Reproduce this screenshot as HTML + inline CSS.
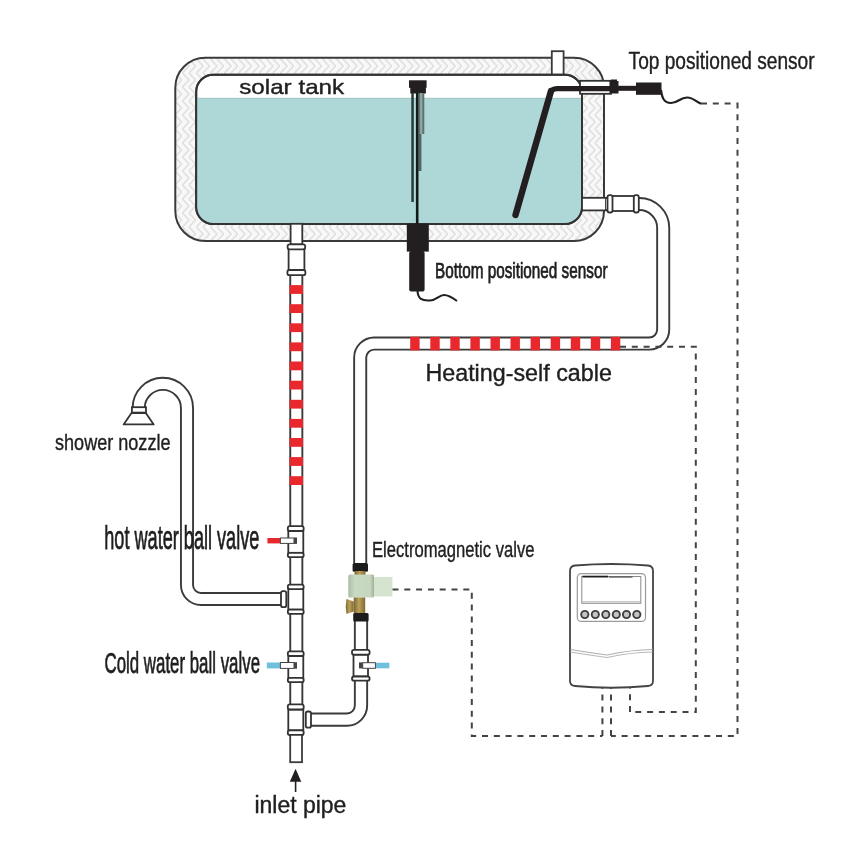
<!DOCTYPE html>
<html><head><meta charset="utf-8">
<style>
html,body{margin:0;padding:0;background:#fff;}
body{width:846px;height:846px;overflow:hidden;}
svg{display:block;}
text{font-family:"Liberation Sans",sans-serif;fill:#1e1e1e;}
.tx{opacity:0.995;will-change:transform;stroke:#1e1e1e;stroke-width:0.4;}
.b{stroke-width:0.75;}
</style></head><body>
<svg width="846" height="846" viewBox="0 0 846 846">
<defs>
<pattern id="ins" width="14" height="14" patternUnits="userSpaceOnUse" patternTransform="translate(0 59)">
<rect width="14" height="14" fill="#f8f8f8"/>
<path d="M0.5 0 L7 7 L0.5 14 M7 0 L13.5 7 L7 14" stroke="#e0e0e0" stroke-width="1.6" fill="none"/>
</pattern>
<linearGradient id="brass" x1="0" y1="0" x2="1" y2="0">
<stop offset="0" stop-color="#7a6430"/><stop offset="0.45" stop-color="#bba25c"/><stop offset="1" stop-color="#83692f"/>
</linearGradient>
<linearGradient id="green" x1="0" y1="0" x2="1" y2="0">
<stop offset="0" stop-color="#a9bba3"/><stop offset="0.25" stop-color="#c9dac2"/><stop offset="0.85" stop-color="#c6d6bf"/><stop offset="1" stop-color="#9fb099"/>
</linearGradient>
</defs>

<!-- ===== TANK ===== -->
<!-- insulation (outer) -->
<rect x="175.3" y="57.7" width="428.7" height="183.4" rx="30" ry="30" fill="url(#ins)" stroke="#3a3a3a" stroke-width="2"/>
<!-- vent on top -->
<rect x="551.8" y="51.2" width="11.8" height="24" fill="#fff" stroke="#3a3a3a" stroke-width="1.8"/>
<!-- inner tank -->
<rect x="196.2" y="74.7" width="385.8" height="149.3" rx="17" ry="17" fill="#fff" stroke="#3a3a3a" stroke-width="2"/>
<!-- water -->
<path d="M197.2 98.3 H581 V207 A16 16 0 0 1 565 223 H213 A16 16 0 0 1 197.2 207 Z" fill="#aed8d7"/>
<line x1="197.2" y1="98.3" x2="581" y2="98.3" stroke="#9cc4c4" stroke-width="1"/>
<rect x="196.2" y="74.7" width="385.8" height="149.3" rx="17" ry="17" fill="none" stroke="#333" stroke-width="2"/>


<!-- top sensor sleeve through right wall -->
<rect x="580" y="80.8" width="31" height="13" fill="#fff" stroke="#333" stroke-width="1.8"/>
<!-- top sensor rod -->
<path d="M614 88.6 H557 Q551.5 88.6 550 94" fill="none" stroke="#231f20" stroke-width="5.2" stroke-linecap="round" stroke-linejoin="round"/>
<path d="M551 91 L515.5 215" fill="none" stroke="#231f20" stroke-width="6.4" stroke-linecap="round"/>
<!-- nut -->
<rect x="609.5" y="81" width="9" height="12.5" fill="#231f20"/>
<rect x="611" y="79.5" width="6" height="2" fill="#231f20"/>
<!-- cable -->
<rect x="618" y="85.8" width="19" height="5" fill="#231f20"/>
<!-- sensor body -->
<rect x="636" y="82.5" width="25.5" height="12.3" fill="#231f20"/>
<!-- wire -->
<path d="M661 90 C662 98 664 103 671 103 C678 103 680 97.5 687 97.5 C694 97.5 697 103 701 103.6" fill="none" stroke="#231f20" stroke-width="2.2"/>

<!-- outlet pipe from tank right wall -->
<rect x="582" y="197.8" width="24" height="12.6" fill="#fff" stroke="#333" stroke-width="1.8"/>

<!-- bottom sensor -->
<rect x="409" y="80.3" width="17.6" height="7.5" fill="#231f20"/>
<rect x="410.3" y="87" width="15.6" height="6.5" fill="#231f20"/>
<rect x="411.3" y="93" width="2.5" height="109" fill="#2a3a3a"/>
<rect x="418.4" y="93" width="5.9" height="41" fill="#5e7272"/>
<rect x="420" y="93" width="2.4" height="41" fill="#8fa3a3"/>
<rect x="418.4" y="134" width="3" height="37" fill="#4f6464"/>
<rect x="415.9" y="93" width="2.6" height="132" fill="#121a1a"/>
<rect x="406.8" y="223.6" width="22" height="28" fill="#231f20"/>
<rect x="409.2" y="251" width="15.4" height="40.6" rx="2" fill="#231f20"/>
<path d="M417.5 291 C418 299 422 301 430 300.5 C437 300 439 295 444 295 C449 295 453 298 457 301" fill="none" stroke="#231f20" stroke-width="2.1"/>


<!-- ===== PIPES (double line via thick dark + thinner white) ===== -->
<g fill="none" stroke-linejoin="round">
<!-- outlet -> heating loop -> down to e-valve -->
<path id="p1" d="M606 204 H639 A24 24 0 0 1 663.2 228 V329.6 A14 14 0 0 1 649.2 343.6 H374.2 A14 14 0 0 0 360.2 357.6 V563" stroke="#3a3a3a" stroke-width="14"/>
<path d="M606 204 H639 A24 24 0 0 1 663.2 228 V329.6 A14 14 0 0 1 649.2 343.6 H374.2 A14 14 0 0 0 360.2 357.6 V563" stroke="#fff" stroke-width="10.2"/>
<!-- shower -->
<path d="M138.7 409 V408 A24.15 24.15 0 0 1 187 408 V585 A14 14 0 0 0 201 599 H282" stroke="#3a3a3a" stroke-width="14"/>
<path d="M138.7 409 V408 A24.15 24.15 0 0 1 187 408 V585 A14 14 0 0 0 201 599 H282" stroke="#fff" stroke-width="10.2"/>
<!-- bottom branch -->
<path d="M310 719.6 H347 A14 14 0 0 0 361 705.6 V620" stroke="#3a3a3a" stroke-width="14.2"/>
<path d="M310 719.6 H347 A14 14 0 0 0 361 705.6 V620" stroke="#fff" stroke-width="10.4"/>
<!-- main vertical -->
<path d="M296.3 274 V736" stroke="#3a3a3a" stroke-width="14"/>
<path d="M296.3 274 V736" stroke="#fff" stroke-width="10.2"/>
</g>
<!-- inlet pipe bottom edge -->
<rect x="290.2" y="733" width="11.8" height="29.2" fill="#fff" stroke="#3a3a3a" stroke-width="1.8"/>
<!-- upper hot section -->
<rect x="290.6" y="223.8" width="11.7" height="20.6" fill="#fff" stroke="#333" stroke-width="1.8"/>
<rect x="288.6" y="249" width="15.8" height="21.5" fill="#fff" stroke="#333" stroke-width="1.8"/>
<rect x="287.6" y="244.3" width="17.6" height="5" rx="2" fill="#fff" stroke="#333" stroke-width="1.8"/>
<rect x="287.4" y="270" width="18" height="5.2" rx="2" fill="#fff" stroke="#333" stroke-width="1.8"/>

<!-- outlet couplings -->
<rect x="612" y="196" width="22" height="15" fill="#fff" stroke="#333" stroke-width="1.8"/>
<rect x="607.5" y="195.2" width="5" height="17.3" rx="2" fill="#fff" stroke="#333" stroke-width="1.8"/>
<rect x="633.8" y="195.2" width="5" height="17.3" rx="2" fill="#fff" stroke="#333" stroke-width="1.8"/>

<g fill="#e8282c"><rect x="289.6" y="285.1" width="13.4" height="8.8"/>
<rect x="289.6" y="304.2" width="13.4" height="8.8"/>
<rect x="289.6" y="323.3" width="13.4" height="8.8"/>
<rect x="289.6" y="342.4" width="13.4" height="8.8"/>
<rect x="289.6" y="361.5" width="13.4" height="8.8"/>
<rect x="289.6" y="380.7" width="13.4" height="8.8"/>
<rect x="289.6" y="399.8" width="13.4" height="8.8"/>
<rect x="289.6" y="418.9" width="13.4" height="8.8"/>
<rect x="289.6" y="438.0" width="13.4" height="8.8"/>
<rect x="289.6" y="457.1" width="13.4" height="8.8"/>
<rect x="289.6" y="476.2" width="13.4" height="8.8"/>
<rect x="410.2" y="336.8" width="9.4" height="13.6"/>
<rect x="430.3" y="336.8" width="9.4" height="13.6"/>
<rect x="450.3" y="336.8" width="9.4" height="13.6"/>
<rect x="470.4" y="336.8" width="9.4" height="13.6"/>
<rect x="490.5" y="336.8" width="9.4" height="13.6"/>
<rect x="510.5" y="336.8" width="9.4" height="13.6"/>
<rect x="530.6" y="336.8" width="9.4" height="13.6"/>
<rect x="550.7" y="336.8" width="9.4" height="13.6"/>
<rect x="570.8" y="336.8" width="9.4" height="13.6"/>
<rect x="590.8" y="336.8" width="9.4" height="13.6"/>
<rect x="610.9" y="336.8" width="9.4" height="13.6"/></g>

<!-- ===== VALVES / TEES on main vertical ===== -->
<g fill="#fff" stroke="#333" stroke-width="1.8">
<!-- hot valve -->
<rect x="288.3" y="531" width="15" height="21.8"/>
<rect x="287.8" y="526.2" width="15.9" height="4.8" rx="2"/>
<rect x="287.8" y="552.8" width="15.9" height="4.4" rx="2"/>
<!-- hot tee -->
<rect x="288.3" y="588.9" width="15" height="20.7"/>
<rect x="281" y="591.2" width="5.3" height="16" rx="2"/>
<rect x="287.8" y="584.7" width="15.9" height="4.4" rx="2"/>
<rect x="287.8" y="609.6" width="15.9" height="4.3" rx="2"/>
<!-- cold valve -->
<rect x="288.3" y="656" width="15" height="21.9"/>
<rect x="287.8" y="651.3" width="15.9" height="4.7" rx="2"/>
<rect x="287.8" y="677.9" width="15.9" height="4.3" rx="2"/>
<!-- bottom tee -->
<rect x="288.3" y="709.5" width="15" height="20.8"/>
<rect x="305.8" y="711.5" width="5.2" height="16.2" rx="2"/>
<rect x="287.8" y="704.3" width="15.9" height="5.2" rx="2"/>
<rect x="287.8" y="730.3" width="15.9" height="4.6" rx="2"/>
<!-- branch cold valve -->
<rect x="353.5" y="654.7" width="14.5" height="21.8"/>
<rect x="352" y="649.9" width="17.6" height="4.8" rx="2"/>
<rect x="352" y="676.5" width="17.6" height="4.2" rx="2"/>
</g>
<!-- handles -->
<rect x="267.4" y="538" width="13" height="5.4" fill="#e8282c"/>
<rect x="280.4" y="538" width="13.6" height="5.4" fill="#fff" stroke="#444" stroke-width="1"/>
<rect x="294" y="537.5" width="3" height="6.4" fill="#444"/>
<rect x="266.8" y="662.5" width="13.6" height="5.9" fill="#6fc0dc"/>
<rect x="280.4" y="662.5" width="13.6" height="5.9" fill="#fff" stroke="#444" stroke-width="1"/>
<rect x="294" y="662.2" width="3" height="6.5" fill="#444"/>
<rect x="375.4" y="662.7" width="13.9" height="5.6" fill="#6fc0dc"/>
<rect x="362.7" y="662.7" width="12.7" height="5.6" fill="#fff" stroke="#444" stroke-width="1"/>
<rect x="359" y="662.4" width="3.7" height="6" fill="#444"/>

<!-- ===== ELECTROMAGNETIC VALVE ===== -->
<rect x="352.6" y="562.9" width="15.4" height="8.8" rx="1.5" fill="#1c1c1c"/>
<rect x="354.5" y="571" width="11" height="4.5" fill="url(#brass)"/>
<rect x="373" y="577" width="19.4" height="19.4" fill="#d5e4cf"/>
<rect x="348.3" y="574.5" width="25.7" height="23.1" rx="1.5" fill="url(#green)"/>
<rect x="353.7" y="597.5" width="11.5" height="16" fill="url(#brass)"/>
<path d="M346.5 599 L353.7 601.5 V611.5 L346.5 614 Q345 606.5 346.5 599 Z" fill="url(#brass)"/>
<rect x="353.2" y="613" width="15.4" height="8.6" rx="1.5" fill="#1c1c1c"/>

<!-- ===== SHOWER HEAD ===== -->
<rect x="131.9" y="407.2" width="14.1" height="5.4" fill="#fff" stroke="#333" stroke-width="1.8"/>
<path d="M131.5 413 L123.6 424.4 H153.7 L145.8 413 Z" fill="#fff" stroke="#333" stroke-width="1.8" stroke-linejoin="round"/>

<!-- inlet arrow -->
<path d="M295.6 768.7 L289.8 781.7 H301.3 Z" fill="#231f20"/>
<line x1="295.6" y1="780" x2="295.6" y2="792" stroke="#231f20" stroke-width="1.6"/>

<!-- ===== DASHED WIRES ===== -->
<g fill="none" stroke="#444" stroke-width="2" stroke-dasharray="6 5.8">
<path d="M701 103.6 H737.5 V736 H611"/>
<path d="M620 346.7 H695.8 V712 H630"/>
<path d="M392.5 589.5 H471.8 V736 H602.4"/>
<path d="M602.4 736 V687"/>
<path d="M611 736 V687"/>
<path d="M630 712 V687"/>
</g>

<!-- ===== CONTROLLER ===== -->
<path d="M575 565.5 Q611 562.5 648 565.5 Q653 566 653 571 V681 Q653 685.5 648 686 Q611 689.5 575 686 Q570 685.5 570 681 V571 Q570 566 575 565.5 Z" fill="#fff" stroke="#444" stroke-width="1.8"/>
<rect x="577.3" y="573.6" width="68.2" height="47.8" rx="4" fill="#fff" stroke="#9a9a9a" stroke-width="1.2"/>
<rect x="581.8" y="576.5" width="59" height="26.8" fill="#fff" stroke="#8a8a8a" stroke-width="1"/>
<line x1="582" y1="601.8" x2="640.5" y2="601.8" stroke="#b5b5b5" stroke-width="1"/>
<line x1="582.5" y1="576.6" x2="608" y2="576.6" stroke="#1e1e1e" stroke-width="1.8"/><line x1="608.8" y1="577" x2="632.5" y2="577" stroke="#555" stroke-width="1.3"/>
<g fill="#c4c4c4" stroke="#3e3e3e" stroke-width="1.9">
<circle cx="584.8" cy="614.5" r="3.6"/><circle cx="595.3" cy="614.5" r="3.6"/><circle cx="605.8" cy="614.5" r="3.6"/><circle cx="616.3" cy="614.5" r="3.6"/><circle cx="626.5" cy="614.5" r="3.6"/><circle cx="636.8" cy="614.5" r="3.6"/>
</g>
<path d="M570.5 649.5 Q588 652.5 607 655 Q630 650 652.5 649.5" fill="none" stroke="#b0b0b0" stroke-width="1.2"/>
<path d="M570.5 652 Q588 655 607 657.5 Q630 652.5 652.5 652" fill="none" stroke="#b8b8b8" stroke-width="1.2"/>

<!-- tank text -->
<text class="tx" x="239.2" y="93.9" font-size="21" textLength="105" lengthAdjust="spacingAndGlyphs">solar tank</text>


<text class="tx" x="628.6" y="68.6" font-size="23" textLength="186" lengthAdjust="spacingAndGlyphs">Top positioned sensor</text>
<text class="tx b" x="435" y="278.1" font-size="21.5" textLength="172.5" lengthAdjust="spacingAndGlyphs">Bottom positioned sensor</text>
<text class="tx" x="425.4" y="381" font-size="23.7" textLength="186.5" lengthAdjust="spacingAndGlyphs">Heating-self cable</text>
<text class="tx" x="55" y="450.2" font-size="22.3" textLength="115.5" lengthAdjust="spacingAndGlyphs">shower nozzle</text>
<text class="tx b" x="104.3" y="549" font-size="33" textLength="155" lengthAdjust="spacingAndGlyphs">hot water ball valve</text>
<text class="tx" x="372" y="557.3" font-size="21.5" textLength="162.5" lengthAdjust="spacingAndGlyphs">Electromagnetic valve</text>
<text class="tx b" x="104.5" y="672.9" font-size="30" textLength="155.5" lengthAdjust="spacingAndGlyphs">Cold water ball valve</text>
<text class="tx" x="254.4" y="813.3" font-size="23.5" textLength="92" lengthAdjust="spacingAndGlyphs">inlet pipe</text>
</svg>
</body></html>
